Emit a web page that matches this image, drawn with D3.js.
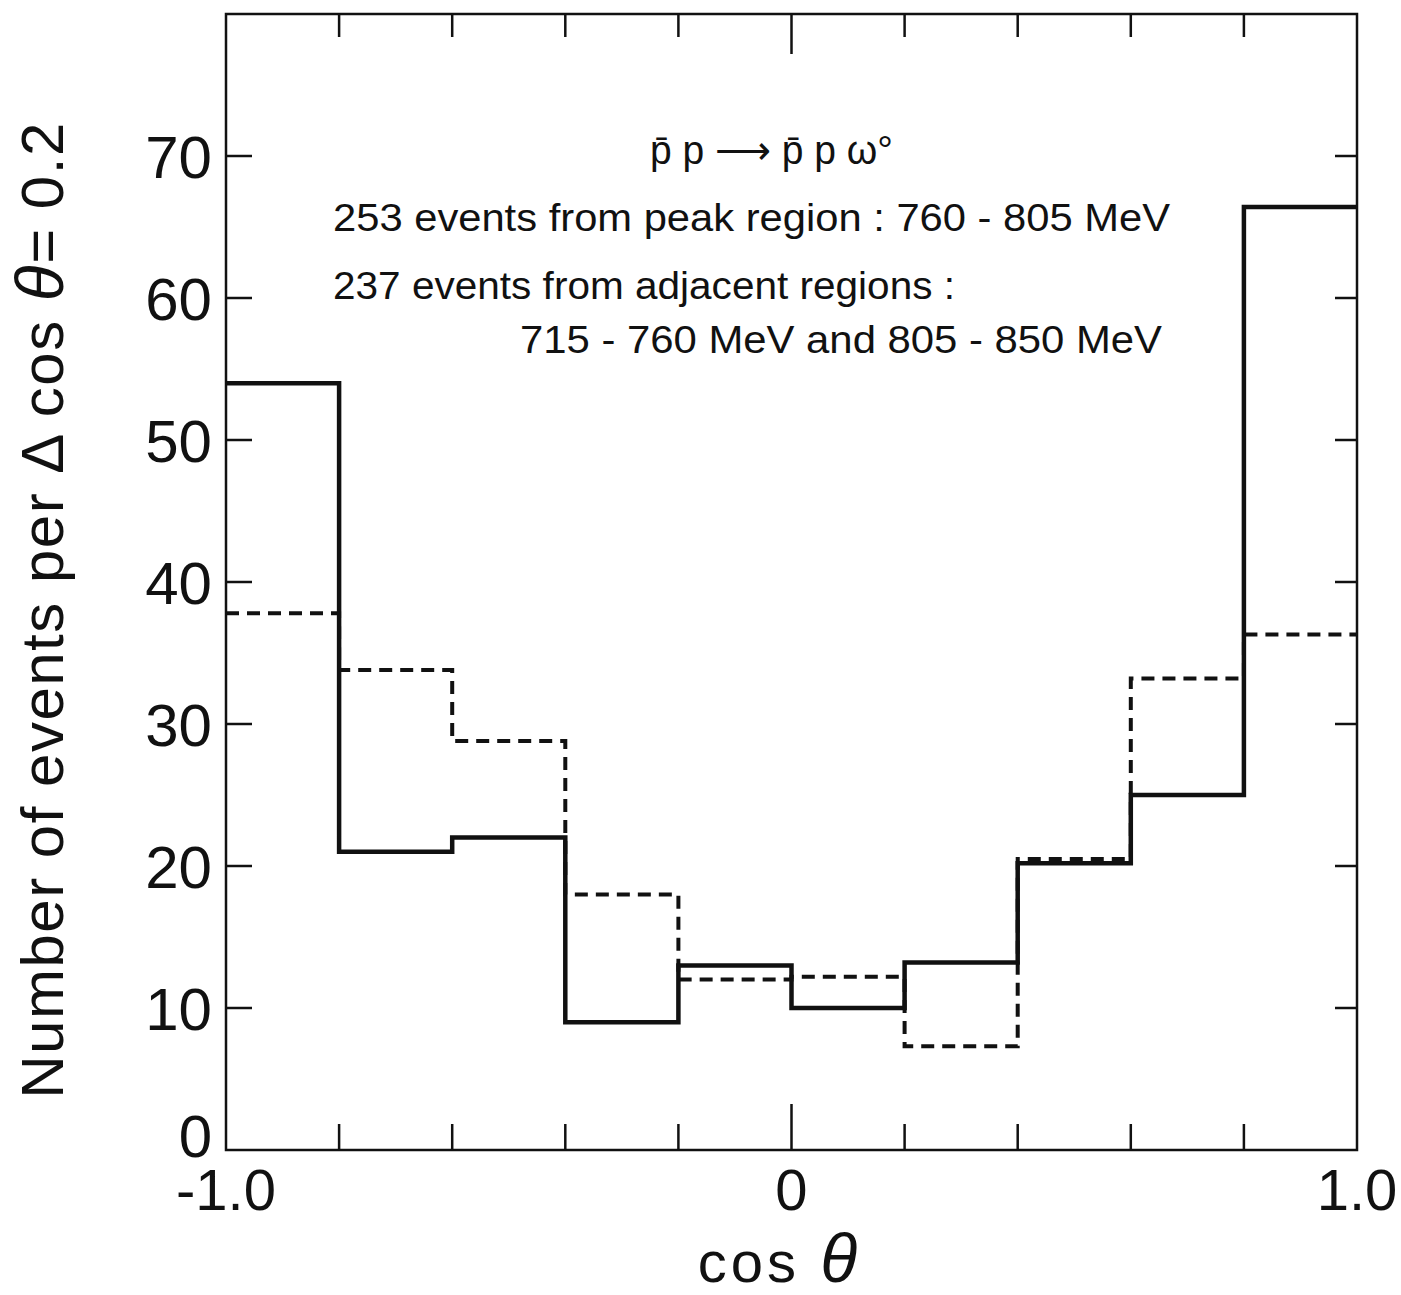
<!DOCTYPE html>
<html>
<head>
<meta charset="utf-8">
<script src="https://cdn.jsdelivr.net/npm/d3@7"></script>
<style>
  body { margin: 0; background: #fff; }
  text { font-family: "Liberation Sans", Arial, sans-serif; fill: #111; }
</style>
</head>
<body>
<svg id="chart" width="1401" height="1295"></svg>
<script>
const binEdges = [-1.0, -0.8, -0.6, -0.4, -0.2, 0.0, 0.2, 0.4, 0.6, 0.8, 1.0];
const peakCounts = [54, 21, 22, 9, 13, 10, 13.2, 20.2, 25, 66.4];
const adjacentCounts = [37.8, 33.8, 28.8, 18, 12, 12.2, 7.3, 20.5, 33.2, 36.3];
const xTickLabels = [[-1, "-1.0"], [0, "0"], [1, "1.0"]];
const yTickValues = [0, 10, 20, 30, 40, 50, 60, 70];

const margin = { left: 226, top: 14, right: 44, bottom: 145 };
const width = 1401, height = 1295;
const innerWidth = width - margin.left - margin.right;
const innerHeight = height - margin.top - margin.bottom;

const svg = d3.select("#chart");
const g = svg.append("g").attr("transform", `translate(${margin.left}, ${margin.top})`);

const xScale = d3.scaleLinear().domain([-1, 1]).range([0, innerWidth]);
const yScale = d3.scaleLinear().domain([0, 80]).range([innerHeight, 0]);

// step histogram: value i holds from edge i to edge i+1
const stepData = counts => counts.map((c, i) => ({ x: binEdges[i], y: c }))
  .concat([{ x: binEdges[binEdges.length - 1], y: counts[counts.length - 1] }]);

const line = d3.line()
  .x(d => xScale(d.x))
  .y(d => yScale(d.y))
  .curve(d3.curveStepAfter);

g.append("path")
  .attr("d", line(stepData(adjacentCounts)))
  .attr("fill", "none")
  .attr("stroke", "#111")
  .attr("stroke-width", 4)
  .attr("stroke-dasharray", "13,8");

g.append("path")
  .attr("d", line(stepData(peakCounts)))
  .attr("fill", "none")
  .attr("stroke", "#111")
  .attr("stroke-width", 4.5)
  .attr("stroke-linejoin", "miter");

// frame
g.append("rect")
  .attr("width", innerWidth)
  .attr("height", innerHeight)
  .attr("fill", "none")
  .attr("stroke", "#111")
  .attr("stroke-width", 2.5);

// x ticks on bottom and top, longer at 0
const xTicks = binEdges.slice(1, -1);
const isZero = v => Math.abs(v) < 1e-9;
g.selectAll(".xtb").data(xTicks).enter().append("line")
  .attr("x1", d => xScale(d)).attr("x2", d => xScale(d))
  .attr("y1", innerHeight).attr("y2", d => innerHeight - (isZero(d) ? 46 : 26))
  .attr("stroke", "#111").attr("stroke-width", 2.5);
g.selectAll(".xtt").data(xTicks).enter().append("line")
  .attr("x1", d => xScale(d)).attr("x2", d => xScale(d))
  .attr("y1", 0).attr("y2", d => isZero(d) ? 40 : 23)
  .attr("stroke", "#111").attr("stroke-width", 2.5);

// y ticks on left and right
const yTicks = yTickValues.filter(v => v > 0);
g.selectAll(".ytl").data(yTicks).enter().append("line")
  .attr("x1", 0).attr("x2", 26)
  .attr("y1", d => yScale(d)).attr("y2", d => yScale(d))
  .attr("stroke", "#111").attr("stroke-width", 2.5);
g.selectAll(".ytr").data(yTicks).enter().append("line")
  .attr("x1", innerWidth).attr("x2", innerWidth - 22)
  .attr("y1", d => yScale(d)).attr("y2", d => yScale(d))
  .attr("stroke", "#111").attr("stroke-width", 2.5);

// y tick labels
g.selectAll(".ylab").data(yTickValues).enter().append("text")
  .attr("x", -14)
  .attr("y", d => d === 0 ? yScale(d) - 15 : yScale(d))
  .attr("dy", "0.36em")
  .attr("text-anchor", "end")
  .attr("font-size", 60)
  .text(d => d);

// x tick labels
g.selectAll(".xlab").data(xTickLabels).enter().append("text")
  .attr("x", d => xScale(d[0]))
  .attr("y", innerHeight + 60)
  .attr("text-anchor", "middle")
  .attr("font-size", 58)
  .text(d => d[1]);

// axis titles
const xt = g.append("text")
  .attr("x", xScale(0) - 12)
  .attr("y", innerHeight + 132)
  .attr("text-anchor", "middle")
  .attr("font-size", 58)
  .attr("letter-spacing", 4);
xt.append("tspan").text("cos   ");
xt.append("tspan").attr("font-style", "italic").attr("font-size", 68).text("θ");

const yt = svg.append("text")
  .attr("transform", `translate(63, 610) rotate(-90)`)
  .attr("text-anchor", "middle")
  .attr("font-size", 60)
  .attr("letter-spacing", 1.5);
yt.append("tspan").text("Number of events per Δ cos ");
yt.append("tspan").attr("font-style", "italic").attr("font-size", 66).text("θ");
yt.append("tspan").text("= 0.2");

// annotations
const notes = g.append("g").attr("font-size", 38);
notes.append("text").attr("x", 650 - margin.left).attr("y", 164 - margin.top)
  .attr("font-size", 40)
  .attr("textLength", 243).attr("lengthAdjust", "spacingAndGlyphs")
  .text("p\u0304 p \u27F6 p\u0304 p ω°");
notes.append("text").attr("x", 333 - margin.left).attr("y", 231 - margin.top)
  .attr("textLength", 837).attr("lengthAdjust", "spacingAndGlyphs")
  .text("253 events from peak region :  760 - 805  MeV");
notes.append("text").attr("x", 333 - margin.left).attr("y", 299 - margin.top)
  .attr("textLength", 622).attr("lengthAdjust", "spacingAndGlyphs")
  .text("237 events from adjacent regions :");
notes.append("text").attr("x", 520 - margin.left).attr("y", 353 - margin.top)
  .attr("textLength", 642).attr("lengthAdjust", "spacingAndGlyphs")
  .text("715 - 760 MeV  and  805 - 850 MeV");
</script>
</body>
</html>
